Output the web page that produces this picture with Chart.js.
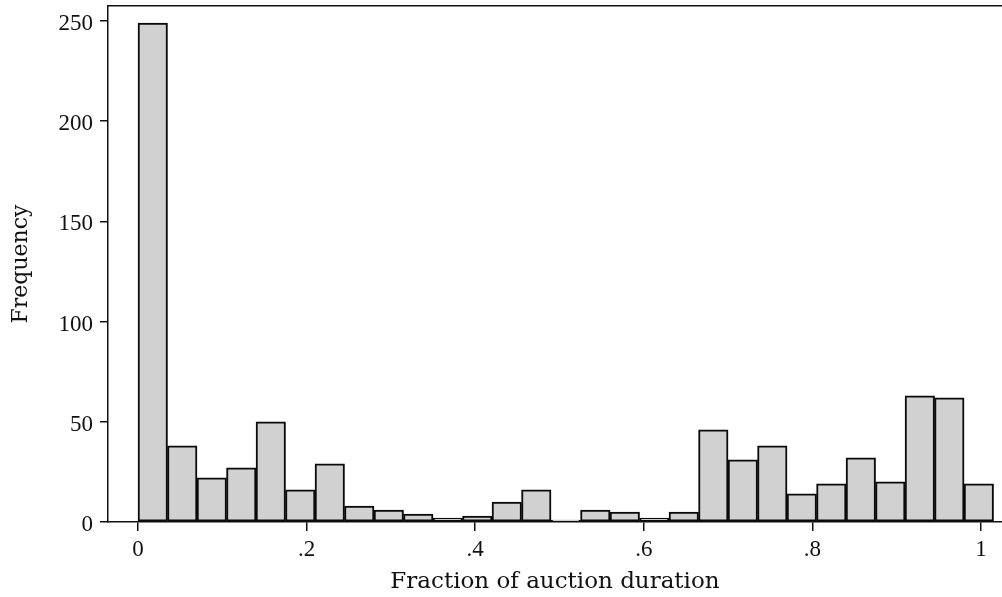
<!DOCTYPE html>
<html><head><meta charset="utf-8">
<script src="https://cdn.jsdelivr.net/npm/chart.js@4.4.1/dist/chart.umd.min.js"></script>
<style>html,body{margin:0;padding:0;background:#fff}#w{width:1002px;height:597px}</style>
</head><body><div id="w"><canvas id="c"></canvas></div>
<script>
const binStart = 0;
const binWidth = 0.035;
const frequencies = [249, 38, 22, 27, 50, 16, 29, 8, 6, 4, 2, 3, 10, 16, 1, 6, 5, 2, 5, 46, 31, 38, 14, 19, 32, 20, 63, 62, 19];
const xTickValues = [0, 0.2, 0.4, 0.6, 0.8, 1];
const xTickLabels = ["0", ".2", ".4", ".6", ".8", "1"];
const yTickValues = [0, 50, 100, 150, 200, 250];
const xTitle = "Fraction of auction duration";
const yTitle = "Frequency";

const points = frequencies.map((f, i) => ({x: binStart + (i + 0.5) * binWidth, y: f}));
const TICKFONT = "'Liberation Serif', serif";
const TITLEFONT = "'DejaVu Serif', serif";
const ink = '#111';
const noPad = s => { s.paddingTop = 0; s.paddingBottom = 0; s.paddingLeft = 0; s.paddingRight = 0; };

new Chart(document.getElementById('c'), {
  type: 'bar',
  data: {datasets: [{
    data: points,
    backgroundColor: '#d1d1d1',
    borderColor: '#0a0a0a',
    borderWidth: 2,
    borderSkipped: false,
    barPercentage: 1,
    categoryPercentage: 1,
    grouped: false
  }]},
  options: {
    responsive: true, maintainAspectRatio: false, animation: false,
    layout: {padding: 0},
    plugins: {legend: {display: false}, tooltip: {enabled: false}},
    scales: {
      x: {
        type: 'linear', position: 'bottom', offset: false,
        min: -0.0356, max: 1.025,
        afterBuildTicks: s => { s.ticks = xTickValues.map(v => ({value: v})); },
        afterFit: s => { s.height = 75; noPad(s); },
        grid: {display: true, offset: false, drawOnChartArea: false, drawTicks: true, tickLength: 9, color: ink, lineWidth: 1.5},
        border: {display: true, color: ink, width: 1.5},
        ticks: {color: ink, font: {family: TICKFONT, size: 23}, padding: 5, maxRotation: 0,
          callback: (v) => { const i = xTickValues.indexOf(v); return i >= 0 ? xTickLabels[i] : ''; }},
        title: {display: true, text: xTitle, color: ink, font: {family: TITLEFONT, size: 23}, padding: {top: 0, bottom: 1}}
      },
      xTop: {
        type: 'linear', position: 'top', offset: false, min: -0.0356, max: 1.025,
        afterFit: s => { s.height = 6; noPad(s); },
        grid: {display: false}, ticks: {display: false},
        border: {display: true, color: ink, width: 1.5}
      },
      y: {
        type: 'linear', position: 'left', min: 0, max: 257.5,
        afterBuildTicks: s => { s.ticks = yTickValues.map(v => ({value: v})); },
        afterFit: s => { s.width = 108; noPad(s); },
        grid: {display: true, drawOnChartArea: false, drawTicks: true, tickLength: 8, color: ink, lineWidth: 1.5},
        border: {display: true, color: ink, width: 1.5},
        ticks: {color: ink, font: {family: TICKFONT, size: 23}, padding: 7, labelOffset: 3},
        title: {display: true, text: yTitle, color: ink, font: {family: TITLEFONT, size: 22}, padding: {top: 8, bottom: 0}}
      }
    }
  }
});
</script></body></html>
